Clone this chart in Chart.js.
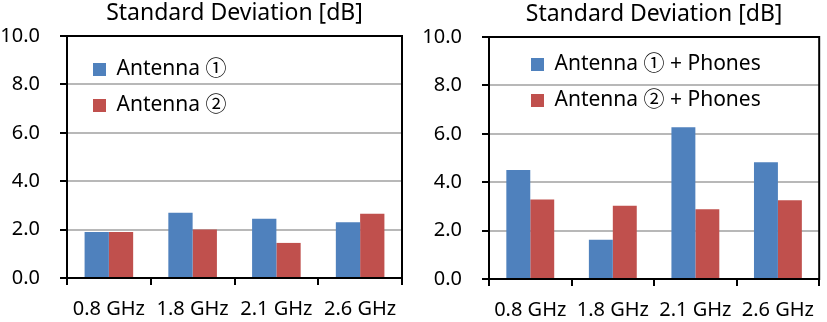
<!DOCTYPE html>
<html><head><meta charset="utf-8">
<script src="https://cdn.jsdelivr.net/npm/chart.js@4/dist/chart.umd.min.js"></script>
<style>
html,body{margin:0;padding:0;background:#fff;}
#wrap{position:relative;width:827px;height:322px;overflow:hidden;}
canvas{position:absolute;top:0;}
</style></head><body>
<div id="wrap">
<canvas id="c1" width="413" height="322" style="left:0"></canvas>
<canvas id="c2" width="414" height="322" style="left:413px"></canvas>
</div>
<script>
const categories = ['0.8 GHz', '1.8 GHz', '2.1 GHz', '2.6 GHz'];
const chartTitle = 'Standard Deviation [dB]';
const leftNames = ['Antenna ①', 'Antenna ②'];
const antenna1 = [1.9, 2.7, 2.45, 2.3];
const antenna2 = [1.9, 2.0, 1.45, 2.65];
const rightNames = ['Antenna ① + Phones', 'Antenna ② + Phones'];
const antenna1Phones = [4.5, 1.62, 6.27, 4.82];
const antenna2Phones = [3.28, 3.03, 2.88, 3.25];
const yMin = 0, yMax = 10, yStep = 2;

const FONT = "'Noto Sans', 'Noto Sans CJK JP', 'DejaVu Sans', sans-serif";
const BLUE = '#4F81BD', RED = '#C0504D';

const legendShift = {
  id: 'legendShift',
  afterLayout(chart, args, opts) {
    const lg = chart.legend, ca = chart.chartArea;
    if (!lg) return;
    lg.left = ca.left + opts.dx;
    lg.top = ca.top + opts.dy;
    lg.right = ca.right;
    lg.bottom = ca.bottom;
  }
};
const frame = {
  id: 'frame',
  afterDraw(chart) {
    const ca = chart.chartArea, ctx = chart.ctx;
    ctx.save();
    ctx.strokeStyle = '#000';
    ctx.lineWidth = 2;
    ctx.beginPath();
    ctx.moveTo(ca.right, ca.top - 1);
    ctx.lineTo(ca.right, ca.bottom + 1);
    ctx.stroke();
    ctx.restore();
  }
};

function makeChart(id, names, s1, s2, cfg) {
  return new Chart(document.getElementById(id), {
    type: 'bar',
    data: {
      labels: categories,
      datasets: [
        { label: names[0], data: s1, backgroundColor: BLUE, borderWidth: 0 },
        { label: names[1], data: s2, backgroundColor: RED, borderWidth: 0 }
      ]
    },
    options: {
      responsive: false,
      animation: false,
      devicePixelRatio: 1,
      categoryPercentage: 0.58,
      barPercentage: 1.0,
      layout: { padding: { left: 0, right: cfg.padRight, top: cfg.padTop, bottom: 0 } },
      plugins: {
        title: {
          display: true, text: chartTitle, fullSize: false, color: '#000',
          font: { family: FONT, size: 23, weight: 'normal', lineHeight: 1.2 },
          padding: { top: 0, bottom: 8.4 }
        },
        legend: {
          position: 'chartArea', align: 'start',
          labels: {
            boxWidth: 13, boxHeight: 13, padding: 15, color: '#000',
            font: { family: FONT, size: 21 }
          }
        },
        tooltip: { enabled: false },
        legendShift: { dx: cfg.legDx, dy: cfg.legDy }
      },
      scales: {
        x: {
          afterFit(scale) { scale.height = cfg.xHeight; },
          grid: { display: true, drawOnChartArea: false, drawTicks: true, tickLength: 7, color: '#000', lineWidth: 2, offset: true },
          border: { color: '#000', width: 2 },
          ticks: { color: '#000', padding: 12, font: { family: FONT, size: 20 }, maxRotation: 0, autoSkip: false }
        },
        y: {
          min: yMin, max: yMax,
          afterFit(scale) { scale.width = cfg.yWidth; },
          grid: {
            color: c => (c.tick && c.tick.value === yMax) ? '#000' : '#b8b8b8',
            tickColor: '#000', lineWidth: 2, tickLength: 7, drawTicks: true
          },
          border: { color: '#000', width: 2 },
          ticks: {
            stepSize: yStep, color: '#000', padding: 20,
            font: { family: FONT, size: 20 },
            callback: v => Number(v).toFixed(1)
          }
        }
      }
    },
    plugins: [legendShift, frame]
  });
}

makeChart('c1', leftNames, antenna1, antenna2, { padRight: 11, padTop: 0, xHeight: 44, yWidth: 67, legDx: 11, legDy: 8 });
makeChart('c2', rightNames, antenna1Phones, antenna2Phones, { padRight: 2, padTop: 1, xHeight: 43, yWidth: 76, legDx: 27, legDy: 2 });
</script>
</body></html>
